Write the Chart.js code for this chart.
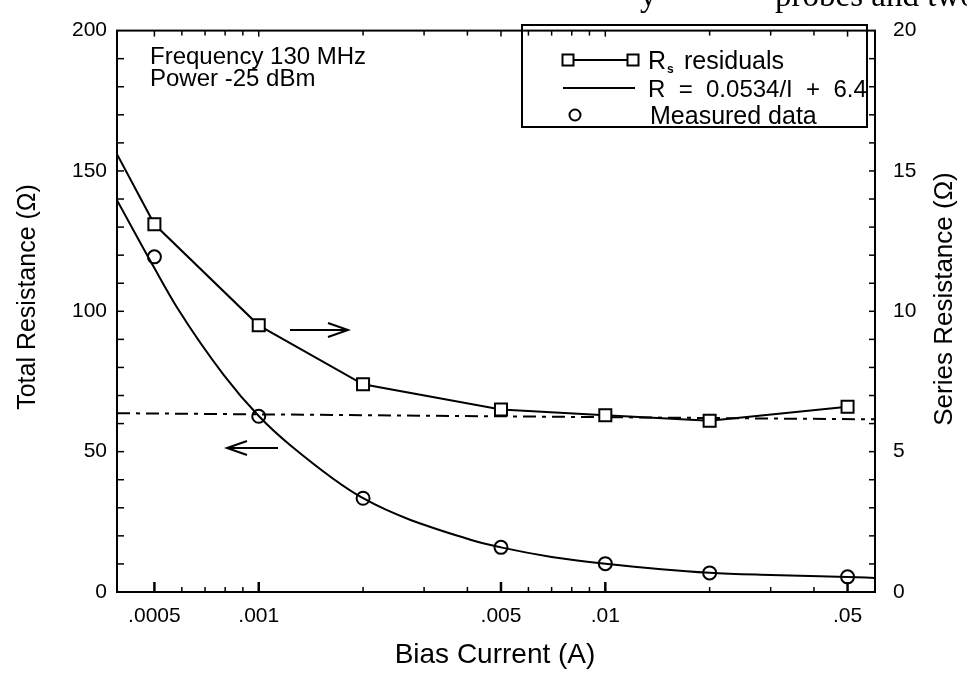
<!DOCTYPE html>
<html>
<head>
<meta charset="utf-8">
<script src="https://cdn.jsdelivr.net/npm/chart.js@4.4.1/dist/chart.umd.min.js"></script>
<style>
  html, body { margin: 0; padding: 0; background: #ffffff; }
  #wrap { width: 967px; height: 688px; position: relative; }
</style>
</head>
<body>
<div id="wrap"><canvas id="c" width="967" height="688"></canvas></div>
<script>
// ---------------- data ----------------
const xMajorTicks = [0.0005, 0.001, 0.005, 0.01, 0.05];
const xMajorLabels = ['.0005', '.001', '.005', '.01', '.05'];
const xMinorTicks = [0.0006, 0.0007, 0.0008, 0.0009, 0.002, 0.003, 0.004,
                     0.006, 0.007, 0.008, 0.009, 0.02, 0.03, 0.04];

// fitted curve, total resistance (left axis)
const fitCurrent = [0.00039, 0.0005, 0.000583, 0.000793, 0.001, 0.001236, 0.002,
                    0.00408, 0.005, 0.007, 0.01, 0.02, 0.03, 0.05, 0.06];
const fitTotal   = [139.6, 115.4, 101.1, 77.3, 62.7, 52.2, 33.4,
                    18.6, 15.9, 12.5, 10.1, 6.85, 6.05, 5.35, 5.0];

// measured data (left axis)
const measCurrent = [0.0005, 0.001, 0.002, 0.005, 0.01, 0.02, 0.05];
const measTotal   = [119.4, 62.6, 33.4, 15.9, 10.1, 6.8, 5.4];

// Rs residuals (right axis); first entry is where the line meets the axis
const rsCurrent = [0.00039, 0.0005, 0.001, 0.002, 0.005, 0.01, 0.02, 0.05];
const rsSeries  = [15.6, 13.1, 9.5, 7.4, 6.5, 6.3, 6.1, 6.6];

// asymptote 6.4 ohm (right axis), dash-dot
const asymCurrent = [0.00039, 0.06];
const asymSeries  = [6.37, 6.15];

const leftTicks = [0, 50, 100, 150, 200];
const rightTicks = [0, 5, 10, 15, 20];

// ---------------- helpers ----------------
const FONT = '"Liberation Sans", Arial, Helvetica, sans-serif';
function pts(xs, ys) { return xs.map((x, i) => ({ x: x, y: ys[i] })); }

const frameAndExtras = {
  id: 'frameAndExtras',
  afterDraw(chart) {
    const ctx = chart.ctx;
    const a = chart.chartArea;
    const xs = chart.scales.x, yl = chart.scales.y, yr = chart.scales.y1;
    ctx.save();
    ctx.strokeStyle = '#000';
    ctx.fillStyle = '#000';
    // frame
    ctx.lineWidth = 2;
    ctx.strokeRect(a.left, a.top, a.right - a.left, a.bottom - a.top);
    const seg = (x1, y1, x2, y2) => { ctx.beginPath(); ctx.moveTo(x1, y1); ctx.lineTo(x2, y2); ctx.stroke(); };
    // x ticks (inward, bottom and top)
    xMajorTicks.forEach(v => {
      const px = xs.getPixelForValue(v);
      ctx.lineWidth = 2.5;
      seg(px, a.bottom, px, a.bottom - 10);
      ctx.lineWidth = 1.5;
      seg(px, a.top, px, a.top + 6);
    });
    ctx.lineWidth = 1.5;
    xMinorTicks.forEach(v => {
      const px = xs.getPixelForValue(v);
      seg(px, a.bottom, px, a.bottom - 5);
      seg(px, a.top, px, a.top + 5);
    });
    // left ticks every 10
    for (let v = 10; v < 200; v += 10) {
      const py = yl.getPixelForValue(v);
      seg(a.left, py, a.left + 7, py);
    }
    // right ticks every 1
    for (let v = 1; v < 20; v += 1) {
      const py = yr.getPixelForValue(v);
      seg(a.right, py, a.right - 6, py);
    }

    // axis titles
    ctx.textAlign = 'center';
    ctx.textBaseline = 'middle';
    ctx.font = '25px ' + FONT;
    ctx.save();
    ctx.translate(28, 297);
    ctx.rotate(-Math.PI / 2);
    ctx.fillText('Total Resistance (\u03A9)', 0, 0);
    ctx.restore();
    ctx.save();
    ctx.translate(945, 299);
    ctx.rotate(-Math.PI / 2);
    ctx.font = '26px ' + FONT;
    ctx.fillText('Series Resistance (\u03A9)', 0, 0);
    ctx.restore();
    ctx.font = '28px ' + FONT;
    ctx.fillText('Bias Current (A)', 495, 655);

    // annotation text
    ctx.textAlign = 'left';
    ctx.textBaseline = 'alphabetic';
    ctx.font = '24px ' + FONT;
    ctx.fillText('Frequency 130 MHz', 150, 64);
    ctx.fillText('Power -25 dBm', 150, 86);

    // legend box
    ctx.lineWidth = 2;
    ctx.strokeRect(522, 25, 867 - 522, 127 - 25);
    // row 1: line with squares
    seg(568, 60, 633, 60);
    ctx.fillStyle = '#fff';
    [568, 633].forEach(cx => {
      ctx.fillRect(cx - 5.5, 54.5, 11, 11);
      ctx.strokeRect(cx - 5.5, 54.5, 11, 11);
    });
    ctx.fillStyle = '#000';
    ctx.font = '25px ' + FONT;
    ctx.fillText('R', 648, 69);
    ctx.font = 'bold 12px ' + FONT;
    ctx.fillText('s', 667, 73);
    ctx.font = '25px ' + FONT;
    ctx.fillText('residuals', 684, 69);
    // row 2: plain line
    seg(563, 88, 635, 88);
    ctx.font = '24px ' + FONT;
    ctx.fillText('R  =  0.0534/I  +  6.4', 648, 97);
    // row 3: circle
    ctx.beginPath();
    ctx.arc(575, 115, 5.5, 0, Math.PI * 2);
    ctx.stroke();
    ctx.font = '25px ' + FONT;
    ctx.fillText('Measured data', 650, 124);

    // arrows
    const arrow = (x1, x2, y) => {
      ctx.lineWidth = 2;
      seg(x1, y, x2, y);
      const dir = Math.sign(x2 - x1);
      ctx.beginPath();
      ctx.moveTo(x2 - dir * 20, y - 7);
      ctx.lineTo(x2, y);
      ctx.lineTo(x2 - dir * 20, y + 7);
      ctx.stroke();
    };
    arrow(290, 348, 330);
    arrow(278, 227, 448);

    // clipped line of page text at the top
    ctx.font = '33px "Liberation Serif", "DejaVu Serif", serif';
    ctx.fillText('y', 640, 6);
    ctx.fillText('probes and two', 775, 6);
    ctx.restore();
  }
};

const chart = new Chart(document.getElementById('c'), {
  type: 'line',
  data: {
    datasets: [
      {
        label: 'R = 0.0534/I + 6.4',
        data: pts(fitCurrent, fitTotal),
        yAxisID: 'y',
        borderColor: '#000',
        borderWidth: 2,
        pointRadius: 0,
        cubicInterpolationMode: 'monotone',
        fill: false
      },
      {
        label: 'Measured data',
        data: pts(measCurrent, measTotal),
        yAxisID: 'y',
        showLine: false,
        pointStyle: 'circle',
        pointRadius: 6.5,
        pointBorderWidth: 2,
        pointBorderColor: '#000',
        pointBackgroundColor: 'rgba(255,255,255,0)'
      },
      {
        label: 'Rs residuals',
        data: pts(rsCurrent, rsSeries),
        yAxisID: 'y1',
        borderColor: '#000',
        borderWidth: 2,
        tension: 0,
        pointStyle: 'rect',
        pointRadius: rsCurrent.map((v, i) => i === 0 ? 0 : 8.5),
        pointBorderWidth: 2,
        pointBorderColor: '#000',
        pointBackgroundColor: '#fff'
      },
      {
        label: 'asymptote',
        data: pts(asymCurrent, asymSeries),
        yAxisID: 'y1',
        borderColor: '#000',
        borderWidth: 2,
        borderDash: [13, 6, 4, 6],
        pointRadius: 0
      }
    ]
  },
  options: {
    responsive: false,
    animation: false,
    devicePixelRatio: 1,
    layout: { padding: { top: 20, left: 0, right: 0, bottom: 0 } },
    plugins: { legend: { display: false }, tooltip: { enabled: false } },
    scales: {
      x: {
        type: 'logarithmic',
        position: 'bottom',
        min: 0.00039,
        max: 0.06,
        afterFit: s => { s.height = 96; },
        afterBuildTicks: s => { s.ticks = xMajorTicks.map(v => ({ value: v, major: true })); },
        ticks: {
          autoSkip: false,
          maxRotation: 0,
          padding: 12,
          color: '#000',
          font: { family: FONT, size: 21 },
          callback: (v) => { const i = xMajorTicks.indexOf(v); return i >= 0 ? xMajorLabels[i] : ''; }
        },
        grid: { display: false, drawTicks: false },
        border: { display: false }
      },
      y: {
        position: 'left',
        min: 0,
        max: 200,
        afterFit: s => { s.width = 117; },
        afterBuildTicks: s => { s.ticks = leftTicks.map(v => ({ value: v })); },
        ticks: { padding: 10, color: '#000', font: { family: FONT, size: 21 } },
        grid: { display: false, drawTicks: false },
        border: { display: false }
      },
      y1: {
        position: 'right',
        min: 0,
        max: 20,
        afterFit: s => { s.width = 92; },
        afterBuildTicks: s => { s.ticks = rightTicks.map(v => ({ value: v })); },
        ticks: { padding: 18, color: '#000', font: { family: FONT, size: 21 } },
        grid: { display: false, drawTicks: false },
        border: { display: false }
      }
    }
  },
  plugins: [frameAndExtras]
});
</script>
</body>
</html>
